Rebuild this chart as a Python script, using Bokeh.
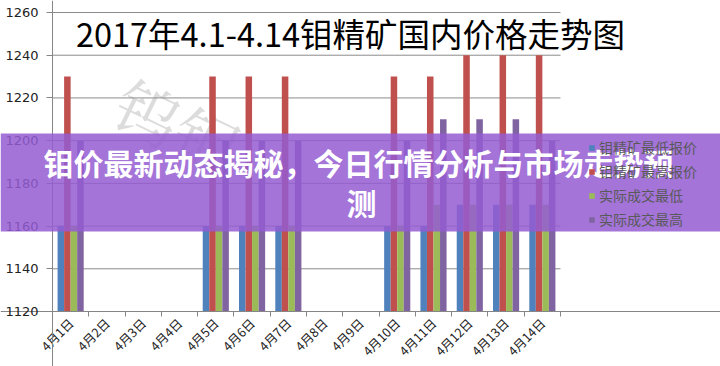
import numpy as np
from bokeh.plotting import figure
from bokeh.models import (Label, BoxAnnotation, Legend, LegendItem, FixedTicker,
                          CustomJSTickFormatter, ColumnDataSource, Range1d, LinearAxis)
from bokeh.embed import file_html
from bokeh.resources import INLINE

nan = float("nan")

title = "2017年4.1-4.14钼精矿国内价格走势图"
banner_line1 = "钼价最新动态揭秘，今日行情分析与市场走势预"
banner_line2 = "测"
watermark = "钨钼"

dates = ["4月1日", "4月2日", "4月3日", "4月4日", "4月5日", "4月6日", "4月7日",
         "4月8日", "4月9日", "4月10日", "4月11日", "4月12日", "4月13日", "4月14日"]

series_names = ["钼精矿最低报价", "钼精矿最高报价", "实际成交最低", "实际成交最高"]
quote_low = [1160, nan, nan, nan, 1160, 1160, 1160, nan, nan, 1160, 1160, 1170, 1170, 1170]
quote_high = [1230, nan, nan, nan, 1230, 1230, 1230, nan, nan, 1230, 1230, 1240, 1240, 1240]
deal_low = [1160, nan, nan, nan, 1160, 1160, 1160, nan, nan, 1160, 1170, 1170, 1170, 1170]
deal_high = [1200, nan, nan, nan, 1200, 1200, 1200, nan, nan, 1200, 1210, 1210, 1210, 1200]

y_ticks = [1120, 1140, 1160, 1180, 1200, 1220, 1240, 1260]

colors = ["#4F81BD", "#C0504D", "#9BBB59", "#8064A2"]
offsets = [-0.27, -0.09, 0.09, 0.27]
bar_w = 0.18

W, H = 720, 366
# plot-area placement in canvas pixels
PL, PR, PT, PB = 52, 560, 12, 311

n = len(dates)
y0, y1 = y_ticks[0], y_ticks[-1]
sx = (PR - PL) / n
sy = (PB - PT) / (y1 - y0)
x_range = Range1d(-PL / sx, n + (W - PR) / sx)
y_range = Range1d(y0 - (H - PB) / sy, y1 + PT / sy)

p = figure(width=W, height=H, x_range=x_range, y_range=y_range,
           output_backend="svg", toolbar_location=None,
           min_border=0, min_border_left=0, min_border_right=0,
           min_border_top=0, min_border_bottom=0,
           x_axis_type=None, y_axis_type=None)
p.outline_line_color = None
p.background_fill_color = "white"
p.border_fill_color = "white"
p.xgrid.visible = False
p.ygrid.visible = False

# watermark (under the bars)
p.add_layout(Label(x=140, y=55, x_units="canvas", y_units="canvas", text=watermark,
                   text_font="Noto Serif CJK SC", text_font_size="64px", text_color="#c4c4c4",
                   text_alpha=0.6, angle=-0.45, text_baseline="top", level="underlay"))

# horizontal gridlines
p.segment(x0=0, x1=n, y0=y_ticks, y1=y_ticks, line_color="#8c8c8c", line_width=1)

all_vals = [quote_low, quote_high, deal_low, deal_high]
items = []
for k, (name, vals, col) in enumerate(zip(series_names, all_vals, colors)):
    src = ColumnDataSource(dict(x=np.arange(n) + 0.5 + offsets[k], top=vals))
    r = p.vbar(x="x", top="top", bottom=y0, width=bar_w, source=src,
               fill_color=col, line_color=None)
    items.append(LegendItem(label=name, renderers=[r]))

# axes
centers = [i + 0.5 for i in range(n)]
bounds = [i for i in range(n + 1)]
xa = LinearAxis(fixed_location=y0)
xa.ticker = FixedTicker(ticks=centers, minor_ticks=bounds)
xa.formatter = CustomJSTickFormatter(args=dict(labels=dates),
                                     code="return labels[Math.floor(tick)];")
xa.major_label_orientation = np.pi / 4
xa.major_tick_line_color = None
xa.minor_tick_out = 5
xa.minor_tick_in = 0
xa.minor_tick_line_color = "#868686"
xa.axis_line_color = "#868686"
xa.major_label_text_font = "Noto Sans CJK SC"
xa.major_label_text_font_size = "12.5px"
xa.major_label_text_color = "#222222"
xa.major_label_standoff = 3
p.add_layout(xa, "below")

ya = LinearAxis(fixed_location=0)
ya.ticker = FixedTicker(ticks=y_ticks)
ya.major_tick_out = 6
ya.major_tick_in = 0
ya.minor_tick_line_color = None
ya.major_tick_line_color = "#868686"
ya.axis_line_color = "#868686"
ya.major_label_text_font = "DejaVu Sans"
ya.major_label_text_font_size = "13px"
ya.major_label_text_color = "#222222"
ya.major_label_standoff = 8
p.add_layout(ya, "left")

legend = Legend(items=items, location=(588, H - 229), padding=0, margin=0, spacing=4,
                label_height=17, glyph_height=7, glyph_width=7, label_standoff=4,
                label_text_font="Noto Sans CJK SC", label_text_font_size="14px",
                label_text_color="#595959", background_fill_alpha=0,
                border_line_color=None)
p.add_layout(legend, "center")

p.add_layout(Label(x=350, y=32, x_units="canvas", y_units="canvas", text=title,
                   text_font="Noto Sans CJK SC", text_font_size="32.5px", text_color="#000000",
                   text_align="center", text_baseline="middle"))

# banner overlay
p.add_layout(BoxAnnotation(left=0, right=W, top=133, bottom=231,
                           left_units="canvas", right_units="canvas",
                           top_units="canvas", bottom_units="canvas",
                           fill_color="#945CD2", fill_alpha=0.85, line_color=None))
p.add_layout(Label(x=358, y=161, x_units="canvas", y_units="canvas", text=banner_line1,
                   text_font="Noto Sans CJK SC", text_font_size="30px", text_font_style="bold",
                   text_color="white", text_align="center", text_baseline="middle"))
p.add_layout(Label(x=361, y=201, x_units="canvas", y_units="canvas", text=banner_line2,
                   text_font="Noto Sans CJK SC", text_font_size="30px", text_font_style="bold",
                   text_color="white", text_align="center", text_baseline="middle"))

open("out.html", "w").write(file_html(p, INLINE))
